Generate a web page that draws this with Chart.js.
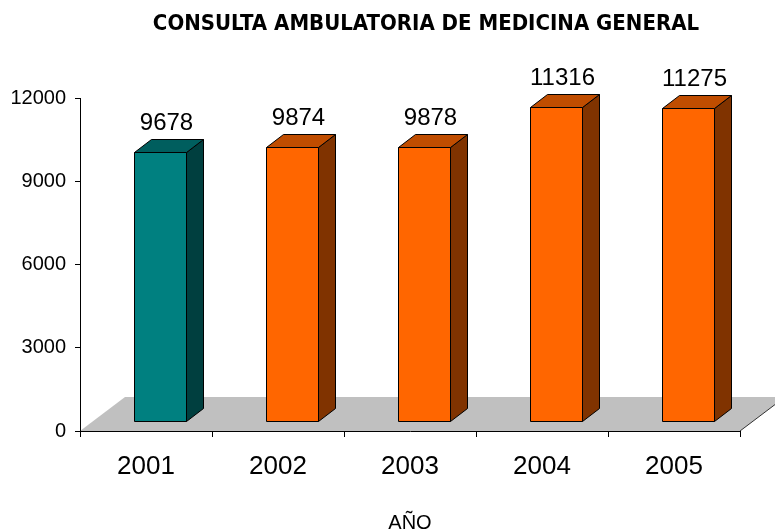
<!DOCTYPE html>
<html>
<head>
<meta charset="utf-8">
<script src="https://cdn.jsdelivr.net/npm/chart.js@4.4.1/dist/chart.umd.min.js"></script>
<style>
  html, body { margin: 0; padding: 0; background: #ffffff; }
  #wrap { width: 775px; height: 532px; }
</style>
</head>
<body>
<div id="wrap"><canvas id="c" width="775" height="532"></canvas></div>
<script>
// ---- data ----
const years = ['2001', '2002', '2003', '2004', '2005'];
const consultas = [9678, 9874, 9878, 11316, 11275];
const yTicks = [0, 3000, 6000, 9000, 12000];
const chartTitle = 'CONSULTA AMBULATORIA DE MEDICINA GENERAL';
const xTitle = 'AÑO';

// ---- styles ----
const frontColors = ['#008080', '#FF6600', '#FF6600', '#FF6600', '#FF6600'];
const topColors   = ['#005E5E', '#C04D00', '#C04D00', '#C04D00', '#C04D00'];
const sideColors  = ['#003F3F', '#803300', '#803300', '#803300', '#803300'];
const BAR_SHIFT_X = 14, BAR_SHIFT_Y = -10;   // bar plane set back from axis plane
const DEPTH_X = 17, DEPTH_Y = -13;           // bar depth
const FLOOR_X = 45, FLOOR_Y = -34;           // floor depth
const TITLE_X = 426, TITLE_Y = 24;

const titlePlugin = {
  id: 'fixedTitle',
  afterDraw(chart) {
    const { ctx } = chart;
    ctx.save();
    ctx.fillStyle = '#000000';
    ctx.font = 'bold 22px "DejaVu Sans Condensed", "DejaVu Sans", sans-serif';
    ctx.textAlign = 'center';
    ctx.textBaseline = 'middle';
    ctx.fillText(chartTitle, TITLE_X, TITLE_Y);
    ctx.restore();
  }
};

const floorPlugin = {
  id: 'floor3d',
  beforeDraw(chart) {
    const { ctx, chartArea: a } = chart;
    const b = chart.scales.y.getPixelForValue(0);
    ctx.save();
    ctx.beginPath();
    ctx.moveTo(a.left, b);
    ctx.lineTo(a.right, b);
    ctx.lineTo(a.right + FLOOR_X, b + FLOOR_Y);
    ctx.lineTo(a.left + FLOOR_X, b + FLOOR_Y);
    ctx.closePath();
    ctx.fillStyle = '#C0C0C0';
    ctx.fill();
    ctx.beginPath();
    ctx.moveTo(a.right, b);
    ctx.lineTo(a.right + FLOOR_X, b + FLOOR_Y);
    ctx.strokeStyle = '#333333';
    ctx.lineWidth = 1;
    ctx.stroke();
    ctx.restore();
  }
};

const bars3dPlugin = {
  id: 'bars3d',
  afterDatasetsDraw(chart) {
    const { ctx } = chart;
    const meta = chart.getDatasetMeta(0);
    ctx.save();
    ctx.lineWidth = 1;
    ctx.strokeStyle = '#000000';
    ctx.lineJoin = 'miter';
    meta.data.forEach((el, i) => {
      const p = el.getProps(['x', 'y', 'base', 'width'], true);
      const xl = Math.round(p.x - p.width / 2 + BAR_SHIFT_X) + 0.5;
      const xr = Math.round(p.x + p.width / 2 + BAR_SHIFT_X) + 0.5;
      const yt = Math.round(p.y + BAR_SHIFT_Y) + 0.5;
      const yb = Math.round(p.base + BAR_SHIFT_Y) + 0.5;
      // side
      ctx.beginPath();
      ctx.moveTo(xr, yt);
      ctx.lineTo(xr + DEPTH_X, yt + DEPTH_Y);
      ctx.lineTo(xr + DEPTH_X, yb + DEPTH_Y);
      ctx.lineTo(xr, yb);
      ctx.closePath();
      ctx.fillStyle = sideColors[i];
      ctx.fill(); ctx.stroke();
      // top
      ctx.beginPath();
      ctx.moveTo(xl, yt);
      ctx.lineTo(xl + DEPTH_X, yt + DEPTH_Y);
      ctx.lineTo(xr + DEPTH_X, yt + DEPTH_Y);
      ctx.lineTo(xr, yt);
      ctx.closePath();
      ctx.fillStyle = topColors[i];
      ctx.fill(); ctx.stroke();
      // front
      ctx.beginPath();
      ctx.rect(xl, yt, xr - xl, yb - yt);
      ctx.fillStyle = frontColors[i];
      ctx.fill(); ctx.stroke();
      // value label
      ctx.fillStyle = '#000000';
      ctx.font = '24px "Liberation Sans", Arial, sans-serif';
      ctx.textAlign = 'center';
      ctx.textBaseline = 'middle';
      ctx.fillText(String(consultas[i]), (xl + xr) / 2 + 6, yt - 29);
    });
    ctx.restore();
  }
};

new Chart(document.getElementById('c'), {
  type: 'bar',
  data: {
    labels: years,
    datasets: [{
      data: consultas,
      backgroundColor: 'rgba(0,0,0,0)',
      borderWidth: 0,
      categoryPercentage: 1.0,
      barPercentage: 0.4
    }]
  },
  options: {
    responsive: false,
    animation: false,
    events: [],
    layout: { padding: { left: 0, right: 35, top: 98, bottom: 0 } },
    plugins: {
      legend: { display: false },
      tooltip: { enabled: false },
      title: { display: false }
    },
    scales: {
      x: {
        grid: { display: true, offset: true, drawOnChartArea: false, drawTicks: true, tickLength: 6, color: '#000000' },
        border: { display: true, color: '#000000', width: 1 },
        ticks: { color: '#000000', font: { family: '"Liberation Sans"', size: 26 }, padding: 14, maxRotation: 0 },
        title: { display: true, text: xTitle, color: '#000000', font: { family: '"Liberation Sans"', size: 20 }, padding: { top: 0, bottom: -3 } },
        afterFit(scale) { scale.height = 101; }
      },
      y: {
        min: 0,
        max: 12000,
        afterBuildTicks(scale) { scale.ticks = yTicks.map(v => ({ value: v })); },
        grid: { display: true, drawOnChartArea: false, drawTicks: true, tickLength: 5, color: '#000000' },
        border: { display: true, color: '#000000', width: 1 },
        ticks: { color: '#000000', font: { family: '"Liberation Sans"', size: 20 }, padding: 9, callback: (v) => String(v) },
        afterFit(scale) { scale.width = 80; }
      }
    }
  },
  plugins: [floorPlugin, bars3dPlugin, titlePlugin]
});
</script>
</body>
</html>
